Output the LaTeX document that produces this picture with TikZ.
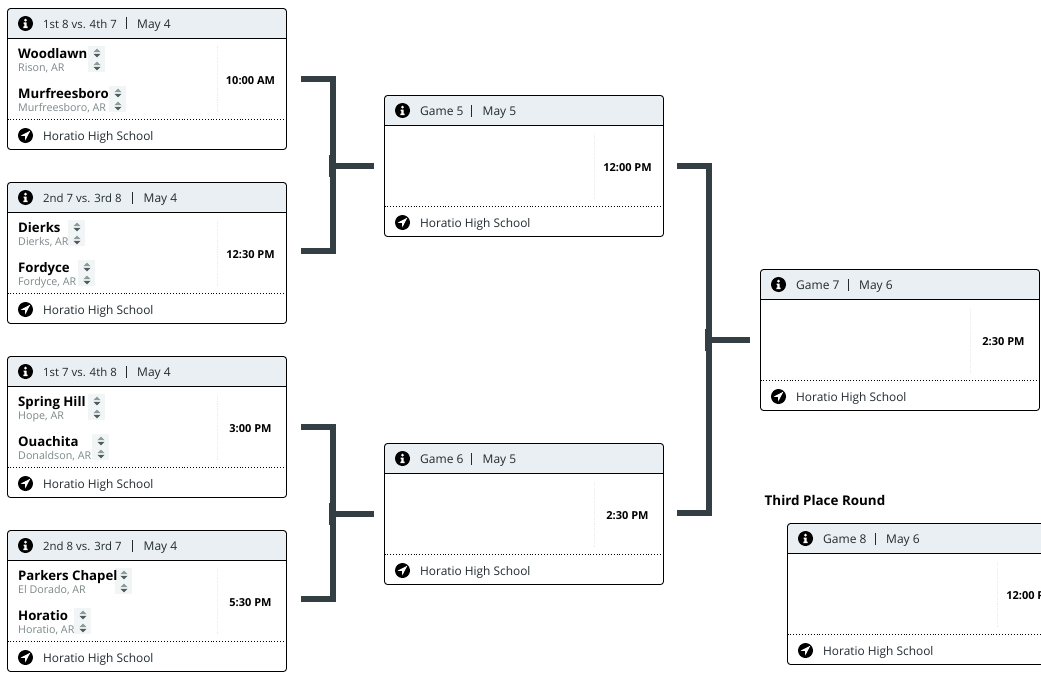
\documentclass[tikz,border=0pt]{standalone}
\usepackage{fontspec}
\setmainfont{Open Sans}
\definecolor{headfill}{HTML}{E9EFF3}
\definecolor{inkc}{HTML}{212B30}
\definecolor{brk}{HTML}{343F43}
\definecolor{locc}{HTML}{7D888A}
\definecolor{sortbg}{HTML}{F1F5F5}
\definecolor{sorta}{HTML}{8C9A98}
\definecolor{sortb}{HTML}{4F5B5C}
\definecolor{vdot}{HTML}{E8EDED}
\newcommand{\rk}[1]{{\fontsize{11.4}{14}\selectfont #1}}
\tikzset{
  x=1pt,y=-1pt,
  cardbox/.style={draw=black,line width=0.9pt,rounded corners=3pt,minimum width=279pt,minimum height=141pt,inner sep=0pt,outer sep=0pt},
  lbl/.style={anchor=base west,inner sep=0pt,text=inkc,font=\fontsize{12}{14}\selectfont},
  sitelbl/.style={anchor=base west,inner sep=0pt,text=inkc,font=\fontsize{11.9}{14}\selectfont},
  teamname/.style={anchor=base west,inner sep=0pt,text=black,font=\fontsize{13.2}{15}\bfseries\selectfont},
  teamloc/.style={anchor=base west,inner sep=0pt,text=locc,font=\fontsize{10.7}{13}\selectfont},
  timelbl/.style={inner sep=0pt,text=black,font=\fontsize{11}{13}\bfseries\selectfont},
  bracketline/.style={draw=brk,line width=6pt},
  headline/.style={anchor=west,inner sep=0pt,text=black,font=\fontsize{13.4}{15}\bfseries\selectfont},
}
\newcommand{\infoicon}[2]{%
  \begin{scope}[shift={(#1,#2)}]
    \fill[black] (0,0) circle (7.5);
    \fill[white] (0,-3.3) circle (1.5);
    \fill[white] (-1.8,-1) -- (1.2,-1) -- (1.2,3) -- (2.2,3) -- (2.2,4.6) -- (-2.2,4.6) -- (-2.2,3) -- (-1.2,3) -- (-1.2,0.6) -- (-1.8,0.6) -- cycle;
  \end{scope}}
\newcommand{\navicon}[2]{%
  \begin{scope}[shift={(#1,#2)}]
    \fill[black] (0,0) circle (7.5);
    \fill[white] (4.8,-4.8) -- (-5,0.2) -- (-0.4,0.4) -- (-0.2,5) -- cycle;
  \end{scope}}
\newcommand{\sorticon}[2]{%
  \fill[sorta] (#1-3.6,#2-0.8) -- (#1+3.6,#2-0.8) -- (#1,#2-4.4) -- cycle;
  \fill[sortb] (#1-3.6,#2+0.8) -- (#1+3.6,#2+0.8) -- (#1,#2+4.4) -- cycle;}
% name, x, y, header left, header date, time, bar x, date x
\newcommand{\gamecard}[8]{%
  \begin{scope}[shift={(#2,#3)},name prefix=#1-]
    \begin{scope}
      \clip[rounded corners=3pt] (0,0) rectangle (279,141);
      \fill[headfill] (0,0) rectangle (279,30);
    \end{scope}
    \draw[black,line width=0.9pt] (0,30) -- (279,30);
    \draw[black,line width=0.9pt,dotted] (0,111) -- (279,111);
    \draw[vdot,line width=1.2pt,densely dotted] (210,38) -- (210,103);
    \node[cardbox,anchor=north west] (card) at (0,0) {};
    \infoicon{18}{15}
    \navicon{18}{127}
    \node[lbl] (head) at (35.5,20) {#4};
    \fill[inkc] (#7-0.45,9) rectangle (#7+0.45,21);
    \node[lbl] (date) at (#8,20) {#5};
    \node[sitelbl] (site) at (35.5,131.5) {Horatio High School};
    \node[timelbl] (time) at (243,72) {#6};
  \end{scope}}
\newcommand{\team}[5]{%
  \begin{scope}[shift={(#1,#2)}]
    \fill[sortbg] (#5-9,-7) rectangle (#5+8,19);
    \sorticon{#5}{0}
    \sorticon{#5}{13}
    \node[teamname] at (18,5.2) {#3};
    \node[teamloc] at (18,18) {#4};
  \end{scope}}
\begin{document}
\begin{tikzpicture}
\useasboundingbox (0,0) rectangle (1041,685);
\fill[white] (0,0) rectangle (1041,685);
\clip (0,0) rectangle (1041,685);

\gamecard{g1}{7.5}{8.5}{\rk{1st 8 vs. 4th 7}}{May 4}{10:00 AM}{118.5}{129.5}
\gamecard{g2}{7.5}{182.5}{\rk{2nd 7 vs. 3rd 8}}{May 4}{12:30 PM}{125}{136}
\gamecard{g3}{7.5}{356.5}{\rk{1st 7 vs. 4th 8}}{May 4}{3:00 PM}{118.5}{129.5}
\gamecard{g4}{7.5}{530.5}{\rk{2nd 8 vs. 3rd 7}}{May 4}{5:30 PM}{125}{136}
\gamecard{g5}{384.5}{95.5}{Game 5}{May 5}{12:00 PM}{87}{98}
\gamecard{g6}{384.5}{443.5}{Game 6}{May 5}{2:30 PM}{87}{98}
\gamecard{g7}{760.5}{269.5}{Game 7}{May 6}{2:30 PM}{88}{98.5}
\gamecard{g8}{787.5}{523.5}{Game 8}{May 6}{12:00 PM}{87.5}{98.5}

\team{0}{53}{Woodlawn}{Rison, AR}{97}
\team{0}{93}{Murfreesboro}{Murfreesboro, AR}{118}
\team{0}{227}{Dierks}{Dierks, AR}{77}
\team{0}{267}{Fordyce}{Fordyce, AR}{87}
\team{0}{401}{Spring Hill}{Hope, AR}{97}
\team{0}{441}{Ouachita}{Donaldson, AR}{101}
\team{0}{575}{Parkers Chapel}{El Dorado, AR}{124}
\team{0}{615}{Horatio}{Horatio, AR}{83}

\node[headline] (third) at (764.5,500) {Third Place Round};

\coordinate (j1) at (333,166);
\coordinate (j2) at (333,514);
\coordinate (j3) at (709,340);
\coordinate (b1) at (301,79);
\coordinate (b2) at (301,251);
\coordinate (b3) at (301,427);
\coordinate (b4) at (301,599);
\coordinate (b5) at (677,166);
\coordinate (b6) at (677,513);
\coordinate (e1) at ([xshift=-10.5pt]g5-card.west);
\coordinate (e2) at ([xshift=-10.5pt]g6-card.west);
\coordinate (e3) at ([xshift=-10.5pt]g7-card.west);
\draw[bracketline] (b1) -| (j1) |- (b2);
\draw[bracketline] (j1) -- (e1);
\draw[bracketline] (b3) -| (j2) |- (b4);
\draw[bracketline] (j2) -- (e2);
\draw[bracketline] (b5) -| (j3) |- (b6);
\draw[bracketline] (j3) -- (e3);
\draw[brk,line width=3pt] ([xshift=-3pt,yshift=11pt]j1) -- ([xshift=-3pt,yshift=-11pt]j1);
\draw[brk,line width=3pt] ([xshift=-3pt,yshift=11pt]j2) -- ([xshift=-3pt,yshift=-11pt]j2);
\draw[brk,line width=3pt] ([xshift=-3pt,yshift=11pt]j3) -- ([xshift=-3pt,yshift=-11pt]j3);
\end{tikzpicture}
\end{document}
